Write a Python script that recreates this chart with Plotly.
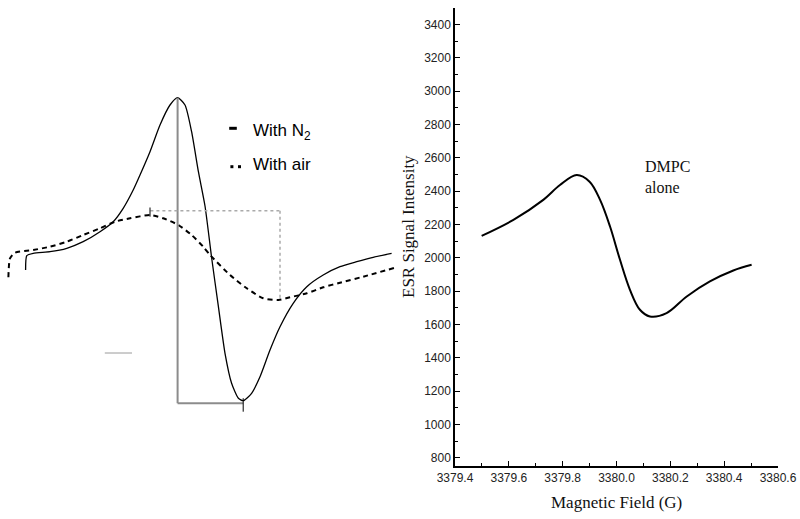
import plotly.graph_objects as go

# ---- left panel: ESR spectra, no scale (arbitrary units) ----
n2_x = [6.4, 6.7, 8.3, 12.5, 16.7, 20.8, 25.0, 28.3, 30.8, 33.3, 35.0, 37.5, 40.0, 42.5, 44.4,
        46.25, 47.9, 49.6, 51.25, 52.9, 54.6, 56.25, 57.9, 59.6, 60.8, 62.9, 65.0, 67.5, 70.0,
        73.3, 76.7, 80.8, 85.0, 89.2, 93.3, 97.9]
n2_y = [-10, 4.3, 6.7, 8.3, 11.7, 18.3, 28.3, 38.3, 51.7, 70, 85, 108.3, 135, 155, 162.3,
        155, 128.3, 88.3, 54, 2.5, -46.7, -93.3, -123.3, -138.3, -140.7, -133.3, -116.7, -90, -66.7,
        -43.3, -26.7, -15, -6.7, -1.7, 2.7, 6.7]

air_x = [2.1, 2.5, 3.75, 8.3, 12.5, 16.7, 20.8, 25.0, 28.75, 32.5, 37.5, 40.8, 44.6, 47.9,
         50.8, 52.5, 57.5, 61.7, 65.8, 69.6, 72.5, 76.7, 80.8, 85.0, 90.8, 98.75]
air_y = [-17.3, 1.7, 7.3, 10, 13.3, 18.3, 25, 31.7, 38.3, 41.7, 45, 41.7, 35, 25,
         13.3, 5, -15, -28.3, -38.3, -40, -37.3, -33.3, -27.3, -22.7, -16.7, -7.7]

# ---- right panel: DMPC alone ----
field = [3379.499, 3379.617, 3379.728, 3379.79, 3379.852, 3379.90, 3379.939, 3379.976,
         3380.013, 3380.05, 3380.087, 3380.124, 3380.186, 3380.261, 3380.347, 3380.434, 3380.502]
intensity = [2132, 2228, 2348, 2437, 2497, 2457, 2348, 2188,
             1988, 1808, 1688, 1648, 1668, 1768, 1858, 1924, 1958]

W, H = 800, 519


def px(x):
    return x / W


def py(y):
    return (H - y) / H


fig = go.Figure()

fig.add_trace(go.Scatter(x=n2_x, y=n2_y, mode="lines", xaxis="x2", yaxis="y2",
                         line=dict(color="black", width=1.3, shape="spline", smoothing=0.6),
                         showlegend=False))
fig.add_trace(go.Scatter(x=air_x, y=air_y, mode="lines", xaxis="x2", yaxis="y2",
                         line=dict(color="black", width=2, dash="5px,4px", shape="spline", smoothing=0.6),
                         showlegend=False))
fig.add_trace(go.Scatter(x=field, y=intensity, mode="lines",
                         line=dict(color="black", width=2, shape="spline"), showlegend=False))

# peak-to-peak brackets, taken from the curves
i_max = n2_y.index(max(n2_y)); i_min = n2_y.index(min(n2_y))
j_max = air_y.index(max(air_y)); j_min = air_y.index(min(air_y))
gray = "#8c8c8c"
shapes = [
    dict(type="line", xref="x2", yref="y2", x0=n2_x[i_max], x1=n2_x[i_max],
         y0=n2_y[i_max], y1=n2_y[i_min] - 2.6, line=dict(color=gray, width=2)),
    dict(type="line", xref="x2", yref="y2", x0=n2_x[i_max], x1=n2_x[i_min],
         y0=n2_y[i_min] - 2.6, y1=n2_y[i_min] - 2.6, line=dict(color=gray, width=2)),
    dict(type="line", xref="x2", yref="y2", x0=n2_x[i_min], x1=n2_x[i_min],
         y0=n2_y[i_min] + 2.5, y1=n2_y[i_min] - 11, line=dict(color="black", width=1)),
    dict(type="line", xref="x2", yref="y2", x0=air_x[j_max] + 0.1, x1=air_x[j_min] + 0.4,
         y0=air_y[j_max] + 4.3, y1=air_y[j_max] + 4.3, line=dict(color="#aaaaaa", width=1.5, dash="dot")),
    dict(type="line", xref="x2", yref="y2", x0=air_x[j_min] + 0.4, x1=air_x[j_min] + 0.4,
         y0=air_y[j_max] + 4.3, y1=air_y[j_min], line=dict(color="#aaaaaa", width=1.5, dash="dot")),
    dict(type="line", xref="x2", yref="y2", x0=air_x[j_max], x1=air_x[j_max],
         y0=air_y[j_max] - 1.7, y1=air_y[j_max] + 7.5, line=dict(color="black", width=1)),
    # small stray trace
    dict(type="line", xref="x2", yref="y2", x0=26.2, x1=33, y0=-93, y1=-93,
         line=dict(color="#9a9a9a", width=1)),
    # legend keys
    dict(type="line", xref="x2", yref="y2", x0=57.3, x1=59.2, y0=131.7, y1=131.7,
         line=dict(color="black", width=3)),
    dict(type="rect", xref="x2", yref="y2", x0=57.6, x1=58.35, y0=91.8, y1=94.8,
         fillcolor="black", line=dict(width=0)),
    dict(type="rect", xref="x2", yref="y2", x0=59.5, x1=60.25, y0=91.8, y1=94.8,
         fillcolor="black", line=dict(width=0)),
]

serif = "Liberation Serif"
sans = "Liberation Sans"
annotations = [
    dict(text="With N<sub>2</sub>", xref="x2", yref="y2", x=62.7, y=128, xanchor="left",
         yanchor="middle", showarrow=False, font=dict(family=sans, size=17, color="black")),
    dict(text="With air", xref="x2", yref="y2", x=62.7, y=96, xanchor="left",
         yanchor="middle", showarrow=False, font=dict(family=sans, size=17, color="black")),
    dict(text="DMPC<br>alone", xref="x", yref="y", x=3380.098, y=2485, xanchor="left",
         yanchor="middle", align="left", showarrow=False,
         font=dict(family=serif, size=16, color="#111")),
    dict(text="Magnetic Field (G)", xref="paper", yref="paper", x=px(616), y=py(502),
         xanchor="center", yanchor="middle", showarrow=False,
         font=dict(family=serif, size=17, color="#111")),
    dict(text="ESR Signal Intensity", xref="paper", yref="paper", x=px(408), y=py(227),
         xanchor="center", yanchor="middle", textangle=-90, showarrow=False,
         font=dict(family=serif, size=17, color="#111")),
]

axis_common = dict(showline=True, linecolor="black", linewidth=1.5, ticks="inside", ticklen=5,
                   tickwidth=1.3, tickcolor="black", showgrid=False, zeroline=False,
                   automargin=False, tickfont=dict(family=sans, size=12, color="#222"))

fig.update_layout(
    width=W, height=H,
    margin=dict(l=0, r=0, t=0, b=0, autoexpand=False),
    paper_bgcolor="white", plot_bgcolor="white",
    xaxis=dict(domain=[px(455), px(778)], range=[3379.4, 3380.6], dtick=0.2, tick0=3379.4,
               tickformat=".1f", anchor="y",
               minor=dict(dtick=0.1, ticks="inside", ticklen=3, tickcolor="black", tickwidth=1.2),
               **axis_common),
    yaxis=dict(domain=[py(466), py(8)], range=[750, 3500], dtick=200, tick0=800, anchor="x",
               minor=dict(dtick=100, ticks="inside", ticklen=3, tickcolor="black", tickwidth=1.2),
               **axis_common),
    # left panel: 1 unit = 4 px across, 1 unit = 1 px down
    xaxis2=dict(domain=[0, px(400)], range=[0, 100], visible=False, anchor="y2"),
    yaxis2=dict(domain=[0, 1], range=[260 - H, 260], visible=False, anchor="x2"),
    shapes=shapes,
    annotations=annotations,
)

# figure fills the window: no page margin, no scrollbars, no toolbar
fig.write_html("out.html", config={"displayModeBar": False},
               post_script="document.body.style.margin='0';"
                           "document.documentElement.style.overflow='hidden';")
